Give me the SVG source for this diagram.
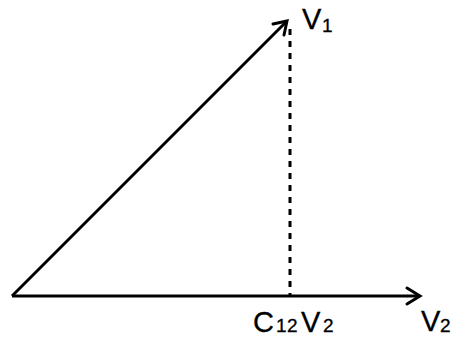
<svg xmlns="http://www.w3.org/2000/svg" width="455" height="337" viewBox="0 0 455 337">
<style>
.ln{stroke:#000;stroke-width:3;fill:none}
.hd{stroke:#000;stroke-width:3;fill:none;stroke-linecap:round;stroke-linejoin:miter}
.t{font-family:"Liberation Sans",Arial,sans-serif;fill:#000;font-size:29px;stroke:#000;stroke-width:0.3}
.s{font-size:19px}
</style>
<g id="connectors">
<line class="ln" x1="12" y1="296" x2="419" y2="296"/>
<polyline class="hd" points="407,288 420,296 407,304"/>
<line class="ln" x1="12" y1="296" x2="286" y2="22"/>
<polyline class="hd" points="273,24 287,21 284,35"/>
<line class="ln" x1="290" y1="29" x2="290" y2="296" stroke-dasharray="6,6"/>
</g>
<g id="label-v1"><text class="t" x="302" y="29">V<tspan class="s" x="322" dy="3">1</tspan></text></g>
<g id="label-c12v2"><text class="t" x="253" y="332">C<tspan class="s" x="276">1</tspan><tspan class="s" x="287">2</tspan><tspan x="301">V</tspan><tspan class="s" x="323">2</tspan></text></g>
<g id="label-v2"><text class="t" x="421" y="331">V<tspan class="s" x="440" dy="1">2</tspan></text></g>
</svg>
